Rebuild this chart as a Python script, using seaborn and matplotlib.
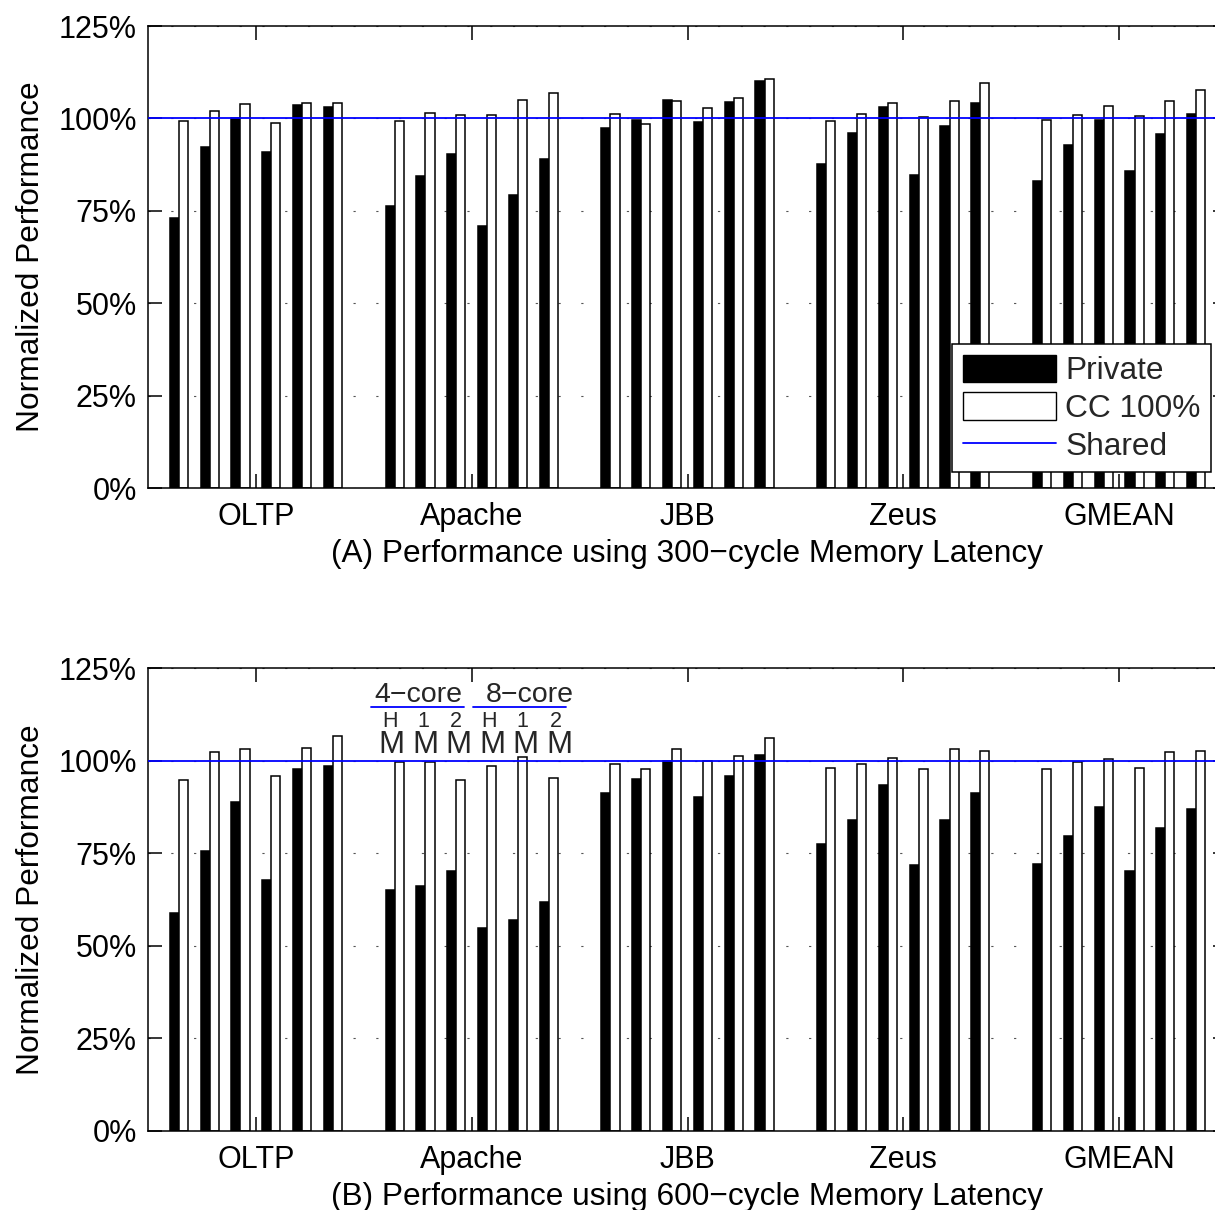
import numpy as np
import pandas as pd
import matplotlib
matplotlib.use("Agg")
import matplotlib.pyplot as plt
import seaborn as sns
from matplotlib.patches import Patch
from matplotlib.lines import Line2D

# ---- data -------------------------------------------------------------
workloads = ["OLTP", "Apache", "JBB", "Zeus", "GMEAN"]
configs = ["4-core HM", "4-core 1M", "4-core 2M", "8-core HM", "8-core 1M", "8-core 2M"]
series = ["Private", "CC 100%"]
yticks = [0, 25, 50, 75, 100, 125]
ytick_labels = ["0%", "25%", "50%", "75%", "100%", "125%"]
shared_level = 100

# 300-cycle memory latency (one row per workload, one value per config)
private_300 = [
    [73.0, 92.3, 100.0, 91.0, 103.6, 103.2],
    [76.3, 84.5, 90.3, 70.9, 79.3, 88.9],
    [97.3, 99.5, 105.1, 99.0, 104.5, 110.1],
    [87.7, 96.0, 103.2, 84.7, 98.0, 104.2],
    [83.1, 92.9, 99.5, 85.8, 95.8, 101.3],
]
cc_300 = [
    [99.4, 102.1, 104.0, 98.7, 104.3, 104.3],
    [99.4, 101.5, 101.0, 100.8, 104.9, 106.8],
    [101.1, 98.6, 104.6, 102.7, 105.6, 110.7],
    [99.4, 101.2, 104.3, 100.5, 104.8, 109.6],
    [99.7, 100.8, 103.4, 100.6, 104.8, 107.8],
]

# 600-cycle memory latency
private_600 = [
    [58.9, 75.7, 88.8, 67.7, 97.8, 98.6],
    [65.1, 66.2, 70.1, 54.8, 56.9, 61.9],
    [91.2, 95.0, 100.0, 90.2, 95.9, 101.4],
    [77.4, 84.0, 93.4, 71.7, 84.0, 91.2],
    [72.1, 79.6, 87.4, 70.1, 81.9, 86.8],
]
cc_600 = [
    [94.7, 102.3, 103.1, 95.8, 103.4, 106.7],
    [99.5, 99.5, 94.8, 98.6, 100.9, 95.4],
    [99.0, 97.8, 103.2, 100.0, 101.3, 106.2],
    [98.1, 99.0, 100.6, 97.7, 103.0, 102.7],
    [97.8, 99.6, 100.5, 98.0, 102.2, 102.6],
]

titles = [
    "(A) Performance using 300\u2212cycle Memory Latency",
    "(B) Performance using 600\u2212cycle Memory Latency",
]
core_labels = ["4\u2212core", "8\u2212core"]
size_top = ["H", "1", "2", "H", "1", "2"]
size_bottom = ["M", "M", "M", "M", "M", "M"]

# ---- layout -----------------------------------------------------------
PAIR_STEP = 0.1428   # distance between neighbouring config pairs
BAR_W = 0.0424       # width of one bar


def build_frame(private, cc):
    rows = []
    for g, _ in enumerate(workloads):
        for k, cfg in enumerate(configs):
            centre = g + (k - 2.5) * PAIR_STEP
            rows.append({"x": centre - BAR_W / 2, "value": private[g][k],
                         "series": series[0], "workload": workloads[g], "config": cfg})
            rows.append({"x": centre + BAR_W / 2, "value": cc[g][k],
                         "series": series[1], "workload": workloads[g], "config": cfg})
    return pd.DataFrame(rows)


sns.set_style("white")
plt.rcParams["font.family"] = ["Liberation Sans", "DejaVu Sans"]
plt.rcParams["axes.linewidth"] = 1.1

FS_TICK = 22
FS_LABEL = 22.8
fig = plt.figure(figsize=(12.15, 12.10), dpi=100)
ax_top = fig.add_axes([148 / 1215, 1 - 488 / 1210, 1079 / 1215, 462 / 1210])
ax_bot = fig.add_axes([148 / 1215, 1 - 1131 / 1210, 1079 / 1215, 463 / 1210])

palette = {series[0]: "black", series[1]: "white"}

for ax, (priv, cc), title in zip(
        [ax_top, ax_bot], [(private_300, cc_300), (private_600, cc_600)], titles):
    df = build_frame(priv, cc)
    sns.barplot(data=df, x="x", y="value", hue="series", palette=palette,
                native_scale=True, dodge=False, width=1.0, errorbar=None,
                edgecolor="black", linewidth=1.1, legend=False, ax=ax, zorder=2)
    ax.axhline(shared_level, color="blue", lw=1.3, zorder=5)

    ax.set_xlim(-0.5, 4.5)
    ax.set_ylim(0, 125)
    ax.set_xticks(range(len(workloads)))
    ax.set_xticklabels(workloads, fontsize=FS_TICK)
    ax.set_yticks(yticks)
    ax.set_yticklabels(ytick_labels, fontsize=FS_TICK)
    ax.tick_params(axis="x", direction="in", length=10, width=1.1, top=True,
                   bottom=True, pad=10, colors="black")
    ax.tick_params(axis="y", direction="in", length=10, width=1.1, left=True,
                   right=True, pad=8, colors="black")
    ax.set_xlabel(title, fontsize=FS_LABEL, labelpad=5, color="black")
    ax.set_ylabel("Normalized Performance", fontsize=FS_LABEL, labelpad=9, color="black")
    ax.set_axisbelow(True)
    ax.yaxis.grid(True, linestyle=(0, (2.0, 18.5)), color="#555555", lw=0.8)
    ax.xaxis.grid(False)
    for sp in ax.spines.values():
        sp.set_color("black")
        sp.set_linewidth(1.1)

# configuration labels above the Apache group of the 600-cycle panel
ax = ax_bot
core_x = [0.755, 1.27]
core_span = [(0.532, 0.965), (1.004, 1.435)]
for label, cx, (x0, x1) in zip(core_labels, core_x, core_span):
    ax.text(cx, 117.7, label, ha="center", va="center", fontsize=20.5)
    ax.plot([x0, x1], [114.5, 114.5], color="blue", lw=1.3, clip_on=False)
for k, (t, b) in enumerate(zip(size_top, size_bottom)):
    ax.text(1.005 + (k - 2.5) * 0.154, 110.6, t, ha="center", va="center", fontsize=15.5)
    ax.text(1.017 + (k - 2.5) * 0.155, 104.2, b, ha="center", va="center", fontsize=22.5)

# legend in the lower right of the 300-cycle panel
handles = [
    Patch(facecolor="black", edgecolor="black", label=series[0]),
    Patch(facecolor="white", edgecolor="black", label=series[1]),
    Line2D([0], [0], color="blue", lw=1.3, label="Shared"),
]
leg = ax_top.legend(handles=handles, loc="lower right",
                    bbox_to_anchor=(1211 / 1215, 1 - 472 / 1210),
                    bbox_transform=fig.transFigure, fontsize=FS_LABEL,
                    handlelength=2.95, handleheight=0.95, handletextpad=0.3,
                    labelspacing=0.2, borderpad=0.32, borderaxespad=0,
                    fancybox=False, framealpha=1, edgecolor="black")
leg.get_frame().set_linewidth(1.1)
leg.set_zorder(10)

fig.savefig("out.png", dpi=100)
